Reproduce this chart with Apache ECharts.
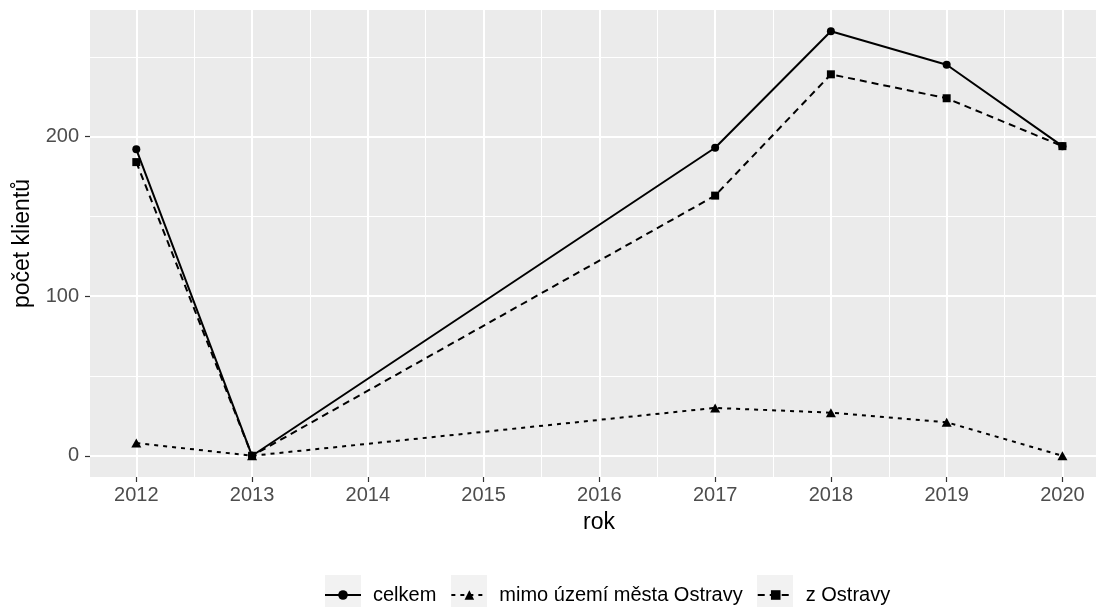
<!DOCTYPE html>
<html>
<head>
<meta charset="utf-8">
<script src="https://cdn.jsdelivr.net/npm/echarts@6/dist/echarts.min.js"></script>
<style>html,body{margin:0;padding:0;background:#fff}#c{width:1096px;height:608px}</style>
</head>
<body>
<div id="c"></div>
<script>
const years = [2012, 2013, 2017, 2018, 2019, 2020];
const celkem = [192, 0, 193, 266, 245, 194];
const mimo = [8, 0, 30, 27, 21, 0];
const zOstravy = [184, 0, 163, 239, 224, 194];
const seriesNames = ['celkem', 'mimo území města Ostravy', 'z Ostravy'];
const xTicks = [2012, 2013, 2014, 2015, 2016, 2017, 2018, 2019, 2020];
const xMinor = [2012.5, 2013.5, 2014.5, 2015.5, 2016.5, 2017.5, 2018.5, 2019.5];
const yTicks = [0, 100, 200];
const yMinor = [50, 150, 250];

const FONT = 'Liberation Sans, Arial, sans-serif';
const pairs = arr => years.map((y, i) => [y, arr[i]]);

const gridLines = [];
xMinor.forEach(v => gridLines.push({xAxis: v, lineStyle: {width: 1}}));
yMinor.forEach(v => gridLines.push({yAxis: v, lineStyle: {width: 1}}));
xTicks.forEach(v => gridLines.push({xAxis: v, lineStyle: {width: 2}}));
yTicks.forEach(v => gridLines.push({yAxis: v, lineStyle: {width: 2}}));

// legend key background boxes (decoration, ggplot style)
const keyBoxes = [325, 451, 757].map(x => ({
  type: 'rect', left: x, top: 575, z: -10, silent: true,
  shape: {width: 36, height: 32}, style: {fill: '#F2F2F2'}
}));

const chart = echarts.init(document.getElementById('c'), null, {renderer: 'canvas'});
chart.setOption({
  animation: false,
  backgroundColor: '#ffffff',
  textStyle: {fontFamily: FONT},
  graphic: keyBoxes,
  grid: {left: 90, right: 0, top: 10, height: 467, show: true, backgroundColor: '#EBEBEB', borderWidth: 0, containLabel: false},
  xAxis: {
    type: 'value', min: 2011.6, max: 2020.29,
    name: 'rok', nameLocation: 'middle', nameGap: 34,
    nameTextStyle: {fontSize: 23, color: '#000', fontFamily: FONT, padding: [0, 0, 0, 12]},
    axisLine: {show: false, onZero: false},
    splitLine: {show: false},
    axisTick: {show: true, customValues: xTicks, length: 5, lineStyle: {color: '#333333', width: 1.2}},
    axisLabel: {customValues: xTicks, fontSize: 20, color: '#4D4D4D', margin: 8, fontFamily: FONT, formatter: v => String(v)}
  },
  yAxis: {
    type: 'value', min: -13.3, max: 279.3,
    name: 'počet klientů', nameLocation: 'middle', nameGap: 56, nameRotate: 90,
    nameTextStyle: {fontSize: 23, color: '#000', fontFamily: FONT},
    axisLine: {show: false, onZero: false},
    splitLine: {show: false},
    axisTick: {show: true, customValues: yTicks, length: 5, lineStyle: {color: '#333333', width: 1.2}},
    axisLabel: {customValues: yTicks, fontSize: 20, color: '#4D4D4D', margin: 11, fontFamily: FONT, formatter: v => String(v)}
  },
  legend: {
    data: seriesNames,
    left: 319, top: 580,
    itemWidth: 36, itemHeight: 12, itemGap: 14,
    textStyle: {fontSize: 20, color: '#000', fontFamily: FONT, padding: [0, 0, 0, 7]}
  },
  series: [
    {
      type: 'line', name: '_grid', data: [], silent: true, z: 0, legendHoverLink: false,
      markLine: {silent: true, z: 0, symbol: 'none', label: {show: false}, animation: false,
        lineStyle: {color: '#ffffff', type: 'solid'}, emphasis: {disabled: true}, data: gridLines}
    },
    {
      type: 'line', name: seriesNames[0], data: pairs(celkem), z: 3,
      symbol: 'circle', symbolSize: 8,
      lineStyle: {color: '#000', width: 2, type: 'solid'},
      itemStyle: {color: '#000'}
    },
    {
      type: 'line', name: seriesNames[1], data: pairs(mimo), z: 4,
      symbol: 'triangle', symbolSize: [10, 9],
      lineStyle: {color: '#000', width: 2, type: [4, 5]},
      itemStyle: {color: '#000'}
    },
    {
      type: 'line', name: seriesNames[2], data: pairs(zOstravy), z: 5,
      symbol: 'rect', symbolSize: 8,
      lineStyle: {color: '#000', width: 2, type: [7, 5]},
      itemStyle: {color: '#000'}
    }
  ]
});
</script>
</body>
</html>
